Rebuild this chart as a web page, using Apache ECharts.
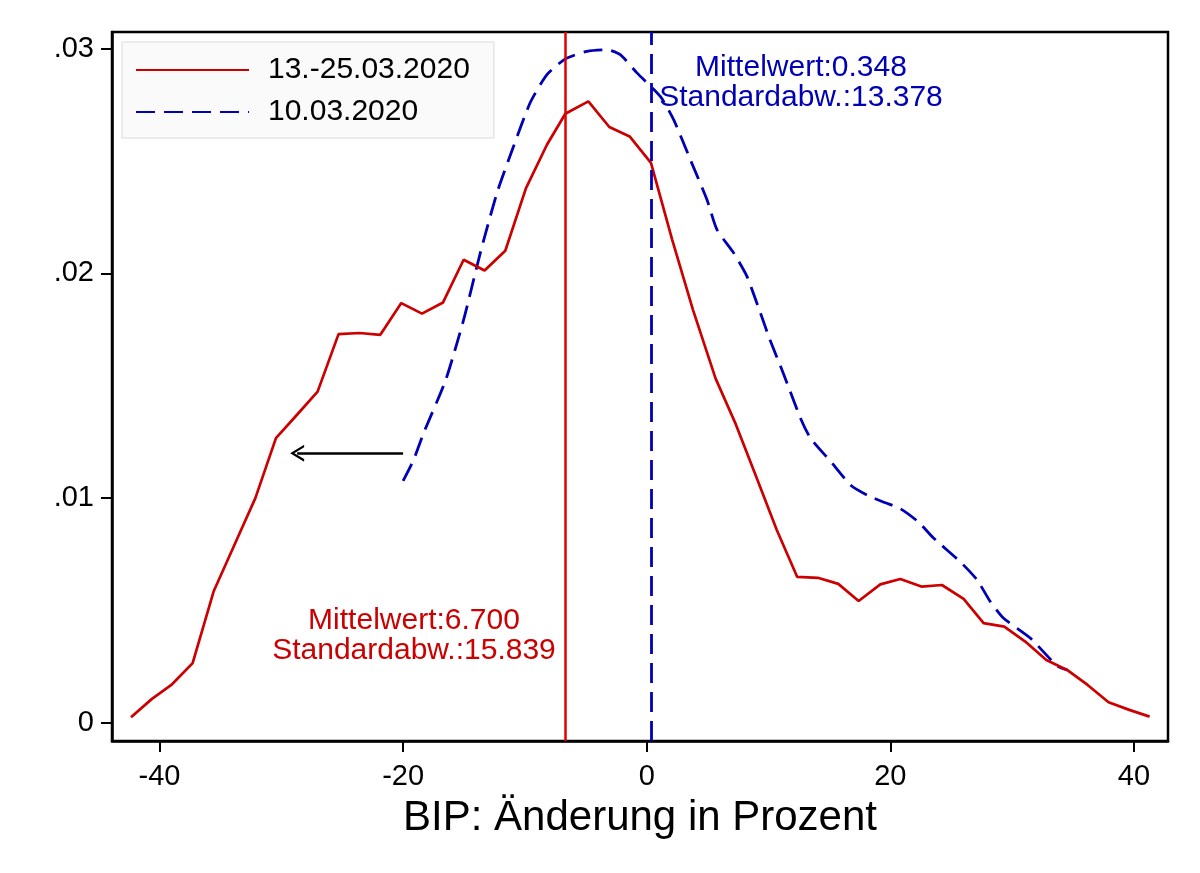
<!DOCTYPE html>
<html>
<head>
<meta charset="utf-8">
<title>BIP Änderung</title>
<script src="https://cdn.jsdelivr.net/npm/echarts@6/dist/echarts.min.js"></script>
<style>
  html, body { margin: 0; padding: 0; background: #fff; }
  #myChart { width: 1200px; height: 873px; }
</style>
</head>
<body>
<div id="myChart"></div>
<script>
// 13.-25.03.2020 (rot, durchgezogen)
const redX = [-42.34, -40.62, -38.97, -37.28, -35.56, -33.78, -32.13, -30.44, -28.71, -27.02,
  -25.30, -23.57, -21.87, -20.15, -18.45, -16.72, -15.03, -13.31, -11.61, -9.91,
  -8.19, -6.68, -4.79, -3.07, -1.40, 0.35, 2.09, 3.80, 5.66, 7.32,
  9.00, 10.68, 12.36, 14.05, 15.73, 17.40, 19.18, 20.82, 22.55, 24.24,
  26.02, 27.66, 29.36, 31.08, 32.81, 34.51, 36.20, 37.92, 39.62, 41.29];
const redY = [0.00024, 0.00106, 0.00171, 0.00265, 0.00584, 0.00800, 0.01000, 0.01267, 0.01371, 0.01474,
  0.01730, 0.01735, 0.01727, 0.01868, 0.01821, 0.01871, 0.02061, 0.02013, 0.02101, 0.02380,
  0.02573, 0.02711, 0.02766, 0.02652, 0.02610, 0.02492, 0.02151, 0.01838, 0.01532, 0.01328,
  0.01094, 0.00858, 0.00649, 0.00645, 0.00618, 0.00542, 0.00616, 0.00640, 0.00606, 0.00613,
  0.00551, 0.00443, 0.00428, 0.00361, 0.00279, 0.00235, 0.00168, 0.00091, 0.00057, 0.00027];

// 10.03.2020 (blau, gestrichelt)
const blueX = [-20.0, -19.14, -18.32, -16.5, -15.03, -13.66, -12.29, -10.93, -9.56, -8.19,
  -6.68, -4.90, -3.26, -2.17, -0.80, 1.12, 2.21, 3.58, 4.95, 5.77,
  7.13, 8.23, 9.33, 10.11, 11.22, 12.61, 13.43, 15.12, 16.78, 18.18,
  19.59, 20.82, 22.30, 23.53, 25.75, 27.12, 28.21, 29.28, 31.49, 33.69, 34.53];
const blueY = [0.01077, 0.01170, 0.01289, 0.01526, 0.01794, 0.02092, 0.02359, 0.02566, 0.02761, 0.02885,
  0.02955, 0.02989, 0.02996, 0.02974, 0.02893, 0.02788, 0.02685, 0.02507, 0.02328, 0.02195,
  0.02092, 0.01987, 0.01825, 0.01706, 0.01555, 0.01358, 0.01268, 0.01162, 0.01056, 0.01011,
  0.00979, 0.00953, 0.00894, 0.00823, 0.00716, 0.00636, 0.00539, 0.00466, 0.00377, 0.00253, 0.00235];

const seriesNames = ['13.-25.03.2020', '10.03.2020'];
const redMean = -6.7;
const blueMean = 0.348;
const redNote = 'Mittelwert:6.700\nStandardabw.:15.839';
const blueNote = 'Mittelwert:0.348\nStandardabw.:13.378';

// Pfeil (von der blauen Kurve nach links)
const arrowFrom = [-20.0, 0.0120];
const arrowTo = [-28.7, 0.0120];

const xTicks = [-40, -20, 0, 20, 40];
const yTicks = [0, 0.01, 0.02, 0.03];
const yTickLabels = ['0', '.01', '.02', '.03'];

const RED = '#cc0000';
const BLUE = '#0000b4';
const FONT = 'Liberation Sans, Arial, sans-serif';

function zip(xs, ys) {
  return xs.map((x, i) => [x, ys[i]]);
}

let myChart = echarts.init(document.getElementById('myChart'));

const option = {
  animation: false,
  textStyle: { fontFamily: FONT },
  grid: {
    left: 112, right: 32, top: 32, bottom: 132,
    show: true, borderColor: '#000', borderWidth: 2.5,
    outerBoundsMode: 'none'
  },
  legend: {
    data: seriesNames,
    orient: 'vertical',
    left: 122, top: 42,
    padding: [13, 24, 11, 13],
    backgroundColor: '#fafafa',
    borderColor: '#e6e6e6',
    borderWidth: 1.5,
    itemWidth: 113,
    itemHeight: 14,
    itemGap: 12,
    itemStyle: { opacity: 0 },
    textStyle: { fontSize: 30, color: '#000', lineHeight: 30, padding: [0, 0, 0, 14] }
  },
  xAxis: {
    type: 'value',
    min: -43.9, max: 42.8,
    name: 'BIP: Änderung in Prozent',
    nameLocation: 'middle',
    nameGap: 56,
    nameTextStyle: { fontSize: 42, color: '#000', verticalAlign: 'top' },
    axisLine: { onZero: false, lineStyle: { color: '#000', width: 2.5 } },
    axisTick: { customValues: xTicks, length: 11, lineStyle: { color: '#000', width: 2 } },
    axisLabel: { customValues: xTicks, fontSize: 29, color: '#000', margin: 21 },
    splitLine: { show: false }
  },
  yAxis: {
    type: 'value',
    min: -0.000815, max: 0.03075,
    axisLine: { onZero: false, lineStyle: { color: '#000', width: 2.5 } },
    axisTick: { customValues: yTicks, length: 11, lineStyle: { color: '#000', width: 2 } },
    axisLabel: {
      customValues: yTicks, fontSize: 29, color: '#000', margin: 18,
      formatter: v => yTickLabels[yTicks.findIndex(t => Math.abs(t - v) < 1e-9)]
    },
    splitLine: { show: false }
  },
  series: [
    {
      name: seriesNames[0],
      type: 'line',
      data: zip(redX, redY),
      symbol: 'none',
      lineStyle: { color: RED, width: 2.7 },
      itemStyle: { color: RED },
      z: 3,
      markLine: {
        silent: true,
        animation: false,
        symbol: 'none',
        label: { show: false },
        lineStyle: { color: '#e00000', width: 2.5, type: 'solid' },
        data: [
          { xAxis: redMean },
          [
            { coord: arrowFrom, symbol: 'none', lineStyle: { color: '#000', width: 2.5, type: 'solid' } },
            { coord: arrowTo, symbol: 'path://M0,15 L8,0 L16,15 L13.6,15 L8,4.5 L2.4,15 Z', symbolSize: [17, 14] }
          ]
        ]
      }
    },
    {
      name: seriesNames[1],
      type: 'line',
      data: zip(blueX, blueY),
      symbol: 'none',
      smooth: 0.2,
      lineStyle: { color: BLUE, width: 2.8, type: [19, 9] },
      itemStyle: { color: BLUE },
      z: 2,
      markLine: {
        silent: true,
        animation: false,
        symbol: 'none',
        label: { show: false },
        lineStyle: { color: BLUE, width: 2.8, type: [20, 9] },
        data: [{ xAxis: blueMean }]
      }
    }
  ],
  graphic: [
    {
      type: 'text', x: 801, y: 53,
      style: { text: blueNote, fill: BLUE, fontSize: 30, lineHeight: 30, align: 'center', fontFamily: FONT }
    },
    {
      type: 'text', x: 414, y: 606,
      style: { text: redNote, fill: RED, fontSize: 30, lineHeight: 30, align: 'center', fontFamily: FONT }
    }
  ]
};

myChart.setOption(option, true);
</script>
</body>
</html>
